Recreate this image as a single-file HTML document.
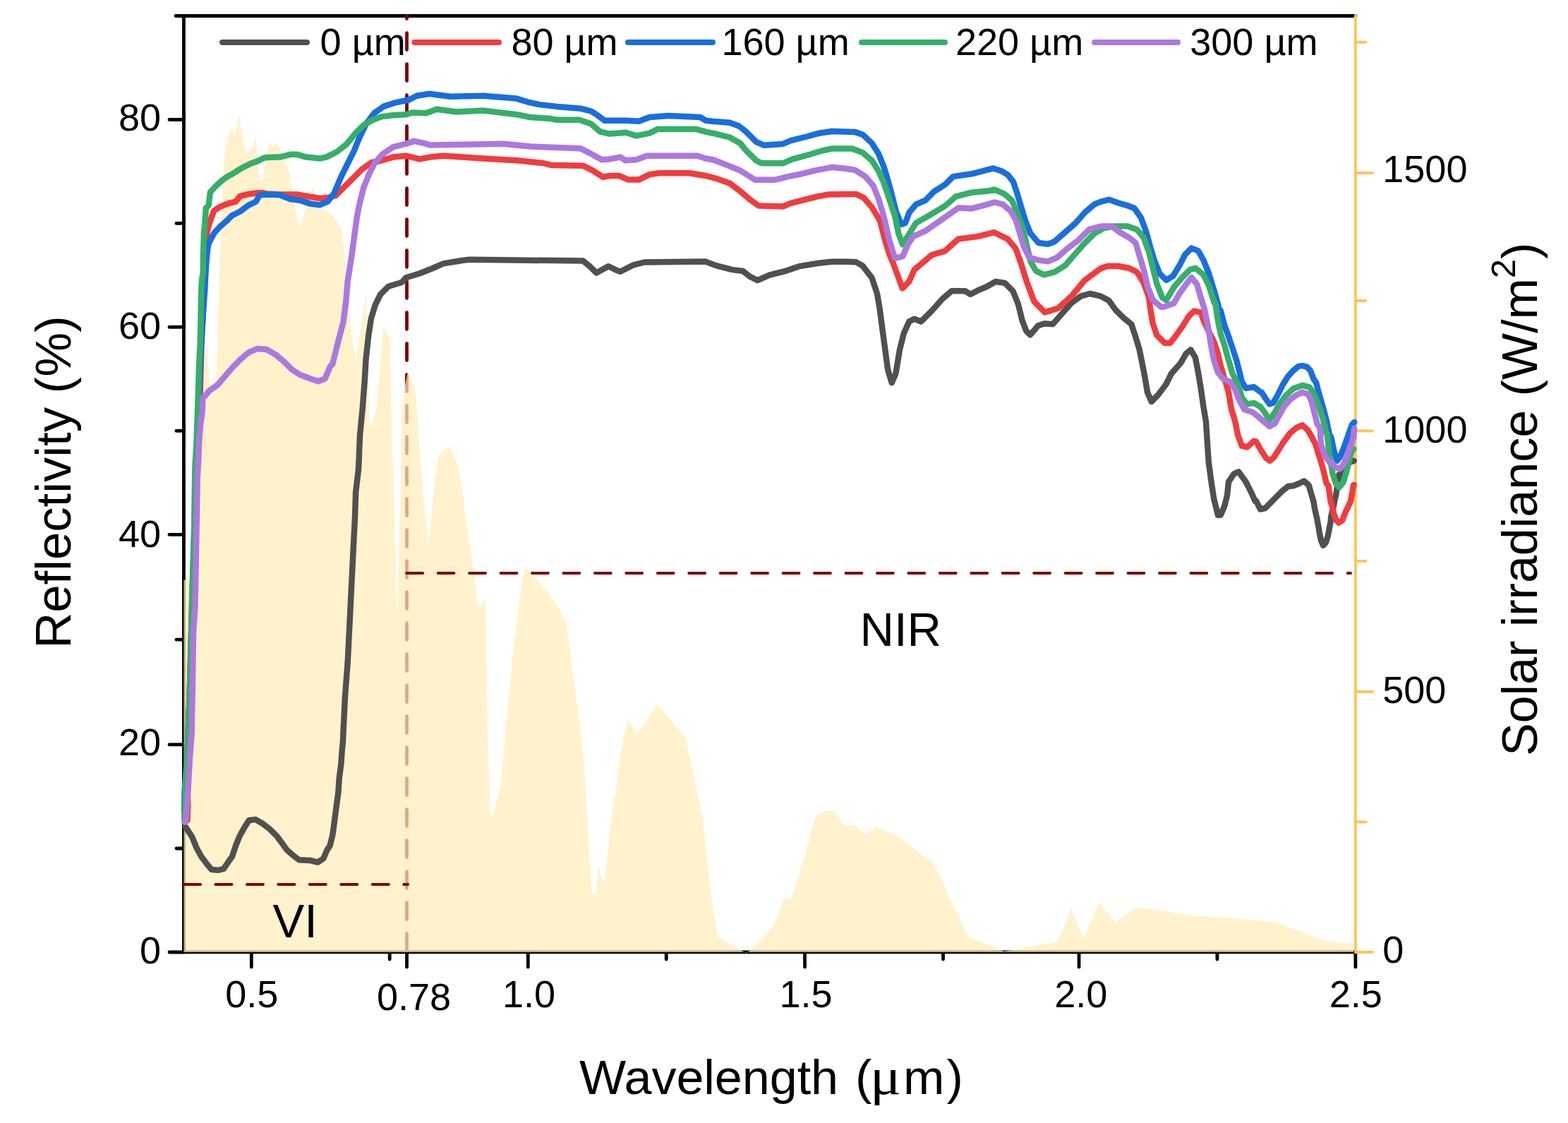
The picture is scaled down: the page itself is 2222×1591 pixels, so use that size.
<!DOCTYPE html><html><head><meta charset="utf-8"><style>html,body{margin:0;padding:0;background:#fff;}svg{display:block;}text{font-family:"Liberation Sans",Arial,sans-serif;fill:#000;}</style></head><body>
<svg xmlns="http://www.w3.org/2000/svg" width="2222" height="1591" viewBox="0 0 2222 1591">
<rect width="2222" height="1591" fill="#fff"/>
<g stroke="#000" stroke-width="4.8" stroke-linecap="round" fill="none">
<line x1="260.45" y1="22.5" x2="260.45" y2="1348.9"/>
<line x1="260.45" y1="1348.9" x2="1920.9" y2="1348.9"/>
<line x1="249" y1="22.5" x2="1920.9" y2="22.5"/>
<line x1="240" y1="1349" x2="260.45" y2="1349"/>
<line x1="240" y1="1054.9" x2="260.45" y2="1054.9"/>
<line x1="240" y1="757.4" x2="260.45" y2="757.4"/>
<line x1="240" y1="463.4" x2="260.45" y2="463.4"/>
<line x1="240" y1="169.5" x2="260.45" y2="169.5"/>
<line x1="250" y1="1202.0" x2="260.45" y2="1202.0"/>
<line x1="250" y1="906.2" x2="260.45" y2="906.2"/>
<line x1="250" y1="610.4" x2="260.45" y2="610.4"/>
<line x1="250" y1="316.4" x2="260.45" y2="316.4"/>
<line x1="356.3" y1="1348.9" x2="356.3" y2="1370"/>
<line x1="576.5" y1="1348.9" x2="576.5" y2="1370"/>
<line x1="748.25" y1="1348.9" x2="748.25" y2="1370"/>
<line x1="1140.5" y1="1348.9" x2="1140.5" y2="1370"/>
<line x1="1529.0" y1="1348.9" x2="1529.0" y2="1370"/>
<line x1="1920.9" y1="1348.9" x2="1920.9" y2="1370"/>
<line x1="552.2" y1="1348.9" x2="552.2" y2="1359"/>
<line x1="944.2" y1="1348.9" x2="944.2" y2="1359"/>
<line x1="1336.5" y1="1348.9" x2="1336.5" y2="1359"/>
<line x1="1724.9" y1="1348.9" x2="1724.9" y2="1359"/>
</g>
<g stroke="#FFC45C" stroke-width="4" stroke-linecap="round" fill="none">
<line x1="1920.9" y1="20.5" x2="1920.9" y2="1349.9" stroke-linecap="butt"/>
<line x1="1920.9" y1="1349" x2="1945" y2="1349"/>
<line x1="1920.9" y1="980.0" x2="1945" y2="980.0"/>
<line x1="1920.9" y1="610.5" x2="1945" y2="610.5"/>
<line x1="1920.9" y1="245.0" x2="1945" y2="245.0"/>
<line x1="1920.9" y1="1164.5" x2="1935.5" y2="1164.5"/>
<line x1="1920.9" y1="795.0" x2="1935.5" y2="795.0"/>
<line x1="1920.9" y1="426.0" x2="1935.5" y2="426.0"/>
<line x1="1920.9" y1="59.8" x2="1935.5" y2="59.8"/>
</g>
<line x1="576.5" y1="1346.6" x2="576.5" y2="22.5" stroke="#7F0000" stroke-width="4.8" stroke-dasharray="24 20" stroke-linecap="round"/>
<path d="M260.4,1348.9 L260.4,822.0 L274.0,819.0 L280.0,700.0 L286.0,560.0 L289.0,520.0 L292.7,485.6 L296.0,530.0 L298.4,556.0 L303.0,545.0 L306.3,539.4 L310.6,400.0 L313.5,307.4 L316.1,267.9 L317.2,228.3 L318.4,219.8 L319.5,211.3 L321.7,200.0 L326.7,179.0 L332.0,192.0 L339.3,164.0 L344.9,200.0 L346.6,211.3 L348.3,215.8 L351.2,215.8 L359.1,208.5 L362.5,192.4 L364.7,222.6 L366.4,236.8 L368.1,255.4 L372.7,256.6 L373.8,245.3 L381.4,200.0 L387.0,209.0 L393.6,202.8 L409.6,243.3 L417.0,290.0 L424.7,322.5 L443.6,264.0 L453.0,294.0 L470.0,303.7 L485.0,326.0 L494.0,424.5 L497.7,466.0 L504.3,515.0 L510.9,466.0 L519.4,414.1 L520.3,456.6 L522.2,532.0 L523.2,588.6 L525.1,604.6 L533.5,579.2 L537.3,532.0 L541.1,484.9 L543.9,464.1 L552.4,479.2 L554.3,569.7 L556.2,635.7 L558.1,700.0 L562.5,873.0 L567.5,700.0 L569.4,588.6 L573.2,550.9 L577.9,526.4 L588.2,550.9 L590.1,569.7 L593.9,626.3 L599.6,700.0 L607.2,770.6 L614.6,700.0 L616.5,673.5 L623.1,643.3 L637.3,632.0 L648.6,660.3 L650.5,667.8 L656.1,700.0 L659.6,732.0 L665.3,769.7 L670.9,807.4 L676.6,856.5 L680.3,858.4 L687.9,848.9 L688.3,860.0 L689.2,935.4 L691.1,1048.6 L693.9,1124.0 L694.9,1156.6 L696.8,1159.4 L700.5,1147.1 L709.0,1114.6 L714.7,1058.0 L720.3,992.0 L726.0,935.4 L731.7,888.3 L736.9,845.2 L743.5,803.7 L759.6,820.6 L778.4,841.4 L790.1,860.0 L801.4,878.9 L807.1,916.6 L814.6,973.2 L822.2,1029.7 L827.8,1086.3 L831.6,1142.9 L836.3,1232.0 L839.2,1267.8 L843.9,1266.0 L848.6,1226.4 L854.2,1250.9 L858.0,1241.4 L863.7,1184.9 L869.3,1128.3 L871.2,1133.5 L876.9,1086.3 L882.5,1048.6 L890.1,1018.4 L903.3,1039.2 L916.5,1020.3 L930.6,998.6 L948.5,1018.4 L971.2,1044.8 L980.6,1086.3 L990.0,1133.5 L995.7,1156.6 L999.5,1194.3 L1005.1,1250.9 L1010.8,1288.6 L1017.4,1326.3 L1040.0,1341.4 L1057.0,1349.9 L1062.6,1347.1 L1087.1,1322.5 L1097.5,1309.3 L1110.7,1272.6 L1122.0,1272.6 L1138.1,1220.7 L1156.0,1155.6 L1170.1,1149.0 L1183.3,1149.0 L1196.5,1169.8 L1211.6,1169.8 L1226.7,1183.0 L1240.8,1170.7 L1275.7,1186.8 L1323.8,1224.5 L1371.9,1327.3 L1422.8,1348.0 L1440.0,1345.2 L1443.0,1344.1 L1499.2,1333.8 L1518.7,1286.7 L1534.8,1330.3 L1557.7,1278.7 L1580.7,1306.2 L1610.5,1285.6 L1642.6,1289.0 L1688.5,1297.0 L1741.3,1300.5 L1805.6,1306.2 L1881.3,1333.8 L1918.0,1337.2 L1918.0,1337.2 L1918.0,1348.9 Z" fill="#FFEDB8" fill-opacity="0.72" stroke="none"/>
<line x1="261" y1="1253" x2="578" y2="1253" stroke="#7F0000" stroke-width="4" stroke-dasharray="23 21.45" stroke-linecap="round"/>
<line x1="576.2" y1="812" x2="1914" y2="812" stroke="#7F0000" stroke-width="4" stroke-dasharray="22.8 21.65" stroke-linecap="round"/>
<g fill="none" stroke-width="8.5" stroke-linejoin="round" stroke-linecap="round">
<path d="M262.9,1171.4 L268.2,1179.7 L272.2,1185.6 L278.8,1201.8 L285.4,1213.7 L293.3,1224.2 L299.9,1232.1 L309.1,1232.8 L317.0,1230.8 L325.0,1218.9 L328.9,1213.7 L334.2,1197.8 L339.5,1184.6 L346.1,1172.8 L352.7,1162.2 L361.9,1160.9 L371.2,1166.2 L381.7,1174.1 L392.3,1184.6 L400.2,1195.2 L406.8,1204.4 L416.0,1212.4 L424.0,1218.3 L439.8,1219.0 L450.3,1221.6 L458.3,1216.3 L463.5,1204.1 L467.5,1198.2 L471.5,1182.0 L474.1,1162.2 L476.7,1142.4 L479.4,1122.6 L480.7,1102.8 L483.3,1083.0 L484.7,1063.2 L486.0,1050.0 L486.5,1037.1 L489.0,986.8 L492.8,936.6 L495.3,886.3 L497.8,836.0 L500.3,785.7 L502.9,735.4 L504.1,697.7 L508.1,664.0 L510.0,616.8 L513.7,579.1 L516.6,541.4 L518.5,509.4 L522.2,475.4 L526.0,450.9 L531.7,432.1 L539.2,417.0 L550.5,405.7 L569.4,400.0 L575.6,393.2 L594.4,387.5 L613.3,380.0 L628.3,373.4 L656.6,368.7 L666.0,367.8 L747.1,368.7 L826.3,369.6 L835.7,377.2 L845.1,386.6 L862.1,377.2 L873.4,382.8 L879.1,384.7 L897.9,375.3 L913.0,371.5 L999.9,370.6 L1015.1,376.4 L1037.7,382.1 L1052.8,384.0 L1062.2,391.5 L1073.5,397.2 L1090.5,389.6 L1113.1,384.0 L1132.0,377.4 L1160.3,372.7 L1179.1,370.8 L1200.0,370.7 L1211.3,371.3 L1212.8,371.1 L1222.2,376.4 L1235.4,393.3 L1243.0,416.0 L1246.8,438.6 L1250.5,466.9 L1254.3,495.2 L1258.1,523.5 L1263.7,542.3 L1269.4,529.1 L1275.0,495.2 L1280.7,472.5 L1288.2,455.6 L1295.8,451.8 L1305.2,455.6 L1320.3,440.5 L1335.4,423.5 L1348.6,412.2 L1367.4,412.2 L1375.0,416.9 L1386.3,411.2 L1397.6,406.5 L1410.8,399.0 L1424.0,400.9 L1435.3,412.2 L1442.9,431.0 L1448.5,453.7 L1454.2,468.8 L1459.9,474.4 L1471.2,461.2 L1480.6,458.4 L1491.9,459.3 L1505.1,444.2 L1518.3,429.2 L1531.5,419.7 L1544.7,416.0 L1560.0,419.7 L1571.3,425.7 L1580.7,438.9 L1592.1,450.2 L1603.4,459.6 L1609.0,476.6 L1614.7,495.4 L1618.5,514.3 L1622.2,533.1 L1626.0,555.8 L1631.7,569.0 L1641.1,559.5 L1652.4,544.5 L1659.9,529.4 L1673.1,514.3 L1680.7,501.1 L1687.3,495.4 L1693.9,506.7 L1697.6,525.6 L1701.4,548.2 L1705.2,574.9 L1705.2,574.9 L1709.0,597.7 L1710.8,626.0 L1712.7,654.3 L1716.5,682.6 L1720.3,707.1 L1725.9,729.7 L1729.7,729.7 L1735.4,716.5 L1739.1,701.4 L1741.0,682.6 L1748.6,671.3 L1755.2,668.4 L1765.5,682.6 L1773.1,697.6 L1778.7,709.9 L1780.0,709.6 L1786.0,721.5 L1792.8,720.0 L1801.1,711.7 L1810.2,702.6 L1817.7,695.1 L1825.3,689.1 L1832.8,688.3 L1840.3,685.3 L1847.9,681.5 L1854.7,687.5 L1859.2,703.2 L1861.5,710.8 L1863.0,720.2 L1866.0,733.5 L1868.2,744.7 L1869.8,754.8 L1872.0,765.7 L1875.0,772.7 L1878.8,768.7 L1881.8,759.2 L1883.3,751.1 L1885.6,739.2 L1886.3,731.6 L1890.1,715.7 L1891.6,707.5 L1893.1,702.1 L1897.5,672.5 L1899.2,672.3 L1905.2,660.3 L1912.7,655.1 L1918.8,652.8" stroke="#505050"/>
<path d="M262.0,1162.8 L263.5,1163.3 L265.5,1162.6 L266.3,1140.0 L265.5,1110.0 L266.3,1050.0 L268.0,1000.0 L269.5,950.0 L271.0,900.0 L272.5,850.0 L274.2,800.0 L276.0,750.0 L277.5,700.0 L280.0,650.0 L282.0,600.0 L283.8,550.0 L285.5,490.0 L288.5,427.0 L291.0,380.0 L293.5,329.7 L294.0,326.6 L296.9,315.7 L298.6,311.2 L303.1,298.7 L311.6,293.0 L322.9,288.5 L334.2,285.7 L339.9,278.1 L351.2,275.2 L362.5,273.5 L371.0,273.0 L377.6,274.4 L396.4,275.4 L420.9,275.4 L436.0,278.2 L453.0,281.0 L464.3,280.1 L475.6,277.2 L488.8,264.0 L500.1,252.7 L513.3,239.5 L526.5,230.1 L537.8,228.2 L556.7,222.6 L575.6,220.7 L594.4,225.4 L609.4,222.6 L628.3,220.7 L684.9,224.5 L732.0,227.3 L769.7,231.0 L781.0,233.9 L826.3,234.8 L839.5,241.4 L854.6,250.8 L864.0,249.0 L877.2,249.0 L890.4,254.6 L905.5,254.6 L920.6,247.1 L933.8,245.2 L977.1,245.2 L999.9,249.0 L1015.1,252.9 L1033.9,259.5 L1049.0,270.8 L1062.2,282.2 L1075.4,291.6 L1109.4,292.5 L1120.7,287.8 L1139.5,283.1 L1158.4,278.4 L1173.5,275.6 L1211.2,275.1 L1212.8,274.9 L1224.1,280.2 L1235.4,293.4 L1246.8,312.2 L1254.3,340.5 L1260.0,359.4 L1265.6,372.6 L1273.2,393.3 L1278.8,408.4 L1288.2,399.0 L1295.8,382.0 L1307.1,372.6 L1320.3,361.3 L1339.2,355.6 L1358.0,338.6 L1386.3,334.9 L1408.9,329.2 L1427.8,338.6 L1439.1,351.8 L1446.7,372.6 L1454.2,397.1 L1465.5,427.3 L1480.6,442.4 L1499.5,436.7 L1518.3,419.7 L1537.2,397.1 L1560.0,380.1 L1569.7,377.0 L1584.8,377.0 L1599.9,379.9 L1611.2,385.5 L1620.6,400.6 L1628.2,421.4 L1629.8,435.1 L1633.5,457.7 L1639.2,474.7 L1650.5,486.0 L1658.1,486.0 L1665.6,476.6 L1675.0,463.4 L1684.5,448.3 L1692.0,440.7 L1701.4,442.6 L1707.1,457.7 L1714.6,472.8 L1720.3,484.1 L1725.9,501.1 L1729.7,518.1 L1735.4,536.9 L1741.0,555.8 L1744.8,578.9 L1750.4,597.7 L1754.2,616.6 L1759.9,631.7 L1767.4,633.5 L1776.8,624.8 L1780.0,625.7 L1786.0,636.2 L1793.6,648.3 L1799.6,652.8 L1804.9,648.3 L1811.7,637.7 L1819.2,625.6 L1828.3,613.6 L1837.3,606.0 L1845.6,602.3 L1853.2,609.1 L1859.2,619.6 L1864.5,630.2 L1868.2,642.2 L1872.0,654.3 L1875.8,667.9 L1879.6,684.7 L1882.6,688.0 L1885.6,710.7 L1887.9,717.7 L1890.1,727.6 L1893.1,736.0 L1896.9,740.6 L1902.2,737.3 L1906.7,725.4 L1910.5,717.6 L1914.3,709.5 L1918.0,687.4 L1918.8,686.9" stroke="#EF3D3F"/>
<path d="M261.0,1150.0 L261.5,1120.0 L263.0,1105.0 L264.2,1085.0 L266.3,1050.0 L268.2,1000.0 L269.8,950.0 L271.0,900.0 L272.3,850.0 L274.0,800.0 L275.8,745.0 L276.5,700.0 L277.5,660.0 L279.5,630.0 L281.0,590.0 L282.0,560.0 L283.5,525.0 L285.0,490.0 L287.5,450.0 L289.9,414.6 L290.1,414.4 L291.2,390.2 L292.7,367.7 L293.1,363.2 L294.0,354.2 L295.2,346.5 L298.6,339.1 L304.2,329.2 L311.6,321.3 L320.1,313.9 L328.5,305.5 L339.9,299.8 L351.2,291.3 L362.5,285.7 L368.1,276.4 L375.0,275.8 L383.2,275.4 L396.4,276.3 L411.5,282.0 L424.7,283.8 L439.8,288.6 L453.0,290.4 L464.3,285.7 L473.7,273.5 L483.2,250.8 L492.6,232.0 L502.0,213.1 L509.6,194.3 L519.0,175.4 L530.3,160.3 L543.5,150.9 L560.5,145.3 L579.3,141.5 L590.6,135.8 L607.6,133.0 L609.4,133.0 L637.7,136.8 L684.9,135.8 L732.0,139.6 L747.1,144.3 L764.0,148.1 L788.6,150.9 L822.5,153.7 L837.6,157.5 L845.1,162.2 L856.4,170.7 L886.6,170.7 L905.5,171.7 L920.6,166.0 L947.0,164.1 L992.2,166.0 L999.9,170.7 L1011.3,171.9 L1033.9,173.7 L1047.1,178.5 L1056.6,186.0 L1071.7,201.1 L1083.0,205.8 L1109.4,203.9 L1120.7,199.2 L1143.3,193.5 L1160.3,188.8 L1179.1,186.0 L1211.2,186.9 L1222.5,190.7 L1235.7,203.0 L1245.1,218.1 L1252.7,236.9 L1258.3,255.8 L1264.0,276.5 L1269.6,299.1 L1277.2,318.0 L1282.8,316.1 L1288.5,301.0 L1297.9,289.7 L1311.1,284.0 L1324.3,270.8 L1339.4,261.4 L1350.7,250.1 L1377.1,246.3 L1400.0,240.3 L1407.5,238.5 L1418.9,242.2 L1428.3,247.9 L1435.8,257.3 L1441.5,274.3 L1447.1,293.1 L1452.8,312.0 L1460.3,330.8 L1471.7,344.0 L1484.9,345.9 L1494.3,342.2 L1509.4,329.0 L1524.5,315.8 L1537.6,300.7 L1550.8,289.4 L1560.3,285.6 L1571.6,282.8 L1584.8,287.5 L1598.0,291.3 L1607.4,295.0 L1616.8,308.2 L1624.4,329.0 L1630.0,349.7 L1635.7,368.6 L1643.2,387.4 L1652.7,396.8 L1662.1,391.2 L1671.5,376.1 L1679.1,361.0 L1688.5,351.6 L1697.9,355.4 L1705.5,368.6 L1713.0,387.4 L1720.6,411.9 L1728.1,439.1 L1729.7,440.0 L1735.4,461.5 L1741.0,476.6 L1746.7,493.5 L1752.3,510.5 L1756.1,525.6 L1759.9,540.7 L1765.5,550.1 L1776.8,548.2 L1786.3,555.5 L1787.5,555.4 L1793.6,564.9 L1798.9,572.4 L1804.1,570.9 L1810.2,560.3 L1817.7,545.3 L1825.3,533.2 L1832.8,524.9 L1840.3,518.9 L1845.6,518.1 L1851.7,519.6 L1856.9,524.9 L1861.5,537.0 L1865.2,542.2 L1869.0,557.3 L1872.8,570.1 L1876.5,583.0 L1880.3,598.1 L1884.1,616.8 L1886.3,619.0 L1890.1,637.7 L1894.6,652.8 L1899.2,646.8 L1904.5,633.9 L1909.7,618.9 L1915.8,601.8 L1919.2,598.1" stroke="#1A6EDC"/>
<path d="M261.2,1160.0 L262.0,1125.0 L263.0,1110.0 L264.5,1085.0 L266.5,1050.0 L268.3,1000.0 L269.8,950.0 L271.0,900.0 L272.1,850.0 L273.5,800.0 L275.2,745.0 L275.8,700.0 L276.5,660.0 L278.3,630.0 L279.8,590.0 L280.8,560.0 L282.0,520.0 L283.5,490.0 L284.4,460.0 L284.9,420.0 L285.9,398.0 L287.8,386.0 L288.0,360.0 L289.0,330.0 L290.6,314.0 L291.8,294.8 L295.7,290.7 L298.0,272.1 L302.0,267.9 L305.9,263.7 L311.6,258.3 L317.2,253.7 L322.9,249.8 L331.4,245.3 L339.9,239.6 L348.3,235.1 L356.8,231.1 L365.3,228.3 L373.8,223.8 L377.6,223.0 L396.4,222.6 L411.5,218.8 L420.9,218.8 L434.1,222.6 L453.0,224.5 L462.4,222.6 L477.5,215.0 L490.7,204.7 L503.9,188.6 L515.2,177.3 L528.4,169.8 L541.6,165.1 L556.7,163.2 L575.6,162.2 L585.0,159.4 L603.8,160.3 L618.9,154.7 L647.1,158.5 L684.9,156.6 L732.0,162.2 L750.8,166.0 L779.1,167.9 L788.6,169.8 L820.6,169.8 L837.6,175.4 L850.8,186.7 L864.0,189.6 L886.6,187.7 L901.7,192.4 L920.6,188.6 L931.9,183.0 L986.5,183.0 L999.9,186.7 L1015.1,189.8 L1033.9,194.5 L1049.0,203.0 L1056.6,212.4 L1071.7,227.5 L1079.2,231.3 L1109.4,231.3 L1122.6,225.6 L1147.1,219.0 L1165.9,213.3 L1179.1,210.5 L1207.4,210.5 L1222.5,216.2 L1235.7,227.5 L1245.1,242.6 L1252.7,259.5 L1260.2,282.2 L1267.8,304.8 L1273.4,331.2 L1279.1,346.3 L1288.5,331.2 L1297.9,316.1 L1320.6,302.9 L1339.4,291.6 L1354.5,278.4 L1377.1,272.7 L1400.0,270.5 L1409.4,268.6 L1422.6,274.3 L1433.9,283.7 L1441.5,300.7 L1449.0,321.4 L1454.7,345.9 L1460.3,370.4 L1467.9,383.6 L1479.2,389.3 L1494.3,385.5 L1509.4,376.1 L1522.6,361.0 L1535.8,345.9 L1550.8,330.8 L1564.0,323.3 L1579.1,320.5 L1598.0,320.5 L1611.2,325.2 L1620.6,336.5 L1628.2,357.2 L1633.8,379.9 L1639.5,402.5 L1647.0,421.4 L1652.7,425.1 L1664.0,406.3 L1675.3,393.1 L1686.6,381.8 L1694.2,379.9 L1705.5,389.3 L1713.0,404.4 L1720.6,428.5 L1722.2,429.8 L1725.9,453.9 L1729.7,472.8 L1735.4,489.8 L1741.0,510.5 L1746.7,529.4 L1754.2,544.5 L1759.9,563.3 L1767.4,572.7 L1776.8,570.8 L1786.3,576.5 L1791.3,583.0 L1798.9,595.0 L1806.4,584.5 L1813.9,571.7 L1822.2,560.3 L1832.8,550.5 L1845.6,546.0 L1855.4,548.3 L1861.5,556.6 L1866.0,567.9 L1870.5,579.9 L1875.0,594.3 L1879.6,614.1 L1880.6,615.1 L1884.1,645.3 L1888.6,671.7 L1893.1,685.2 L1897.7,690.5 L1903.7,683.0 L1908.2,667.9 L1912.7,649.0 L1916.5,636.0 L1918.3,636.3" stroke="#37AE6A"/>
<path d="M261.3,1164.8 L263.4,1163.2 L265.5,1134.0 L267.0,1110.0 L268.3,1086.0 L270.0,1060.0 L271.7,1039.0 L272.9,967.0 L274.1,895.0 L276.3,862.0 L277.7,800.0 L278.3,760.0 L279.1,720.0 L279.6,680.0 L281.0,655.0 L282.2,625.0 L284.3,600.0 L286.5,585.0 L287.5,563.4 L290.0,561.6 L296.5,553.5 L307.8,545.9 L319.1,532.7 L330.4,519.5 L341.7,508.2 L353.1,498.8 L364.4,494.1 L377.6,495.0 L390.8,502.6 L402.1,512.0 L413.4,523.3 L424.7,530.8 L439.8,536.5 L451.1,540.3 L460.5,536.5 L468.1,518.8 L471.3,515.7 L478.9,484.9 L486.4,456.6 L490.2,428.3 L492.6,398.9 L498.2,364.0 L502.0,335.7 L505.8,307.4 L509.6,288.6 L515.2,265.9 L522.8,247.1 L530.3,232.0 L541.6,218.8 L556.7,208.4 L575.6,203.7 L586.9,199.9 L603.8,203.7 L609.4,205.6 L656.6,204.7 L713.1,203.7 L750.8,207.5 L822.5,210.3 L835.7,216.9 L852.7,226.3 L864.0,225.4 L879.1,222.6 L886.6,227.3 L901.7,226.3 L916.8,220.7 L988.4,220.7 L999.9,224.5 L1011.3,226.5 L1028.3,233.1 L1047.1,240.7 L1056.6,246.3 L1069.8,254.8 L1098.1,254.8 L1116.9,250.1 L1135.8,246.3 L1154.6,241.6 L1179.1,236.9 L1198.0,238.8 L1211.2,240.7 L1226.3,250.1 L1237.6,263.3 L1245.1,282.2 L1250.8,301.0 L1256.4,323.6 L1260.2,340.6 L1267.8,364.7 L1269.8,365.5 L1279.2,363.2 L1286.6,346.3 L1294.2,335.0 L1311.1,327.4 L1330.0,314.2 L1348.8,301.0 L1358.3,294.4 L1377.1,295.4 L1400.0,289.4 L1409.4,286.5 L1420.7,289.4 L1432.1,298.8 L1439.6,312.0 L1445.3,330.8 L1450.9,349.7 L1458.5,364.8 L1471.7,368.6 L1484.9,370.4 L1498.1,364.8 L1513.1,351.6 L1528.2,340.3 L1543.3,325.2 L1560.3,320.5 L1575.4,320.5 L1586.7,329.0 L1599.9,336.5 L1609.3,344.0 L1615.0,362.9 L1620.6,381.8 L1626.3,406.3 L1633.8,425.1 L1645.1,434.7 L1648.6,434.9 L1663.7,429.4 L1671.5,415.7 L1681.0,402.5 L1688.5,393.1 L1696.0,402.5 L1701.7,421.4 L1707.1,438.9 L1712.7,467.1 L1716.5,491.7 L1720.3,510.5 L1725.9,527.5 L1733.5,536.9 L1742.9,540.7 L1750.4,552.0 L1756.1,567.1 L1763.6,580.3 L1775.0,584.0 L1782.5,589.7 L1787.5,594.3 L1798.9,604.1 L1806.4,600.3 L1812.4,589.0 L1820.0,575.4 L1829.0,565.6 L1837.3,559.6 L1845.6,555.8 L1853.9,558.8 L1858.4,567.9 L1862.2,583.0 L1866.7,601.1 L1870.5,606.3 L1872.0,630.2 L1878.1,646.8 L1885.6,656.6 L1893.1,662.6 L1899.2,664.1 L1904.5,656.6 L1909.7,643.7 L1914.3,631.7 L1918.0,618.9 L1919.2,606.7" stroke="#AC78DD"/>
</g>
<line x1="315" y1="60" x2="435" y2="60" stroke="#505050" stroke-width="8" stroke-linecap="round"/>
<text x="453.6" y="78.3" font-size="54">0 µm</text>
<line x1="587.5" y1="60" x2="707" y2="60" stroke="#EF3D3F" stroke-width="8" stroke-linecap="round"/>
<text x="724.4" y="78.3" font-size="54">80 µm</text>
<line x1="890" y1="60" x2="1010" y2="60" stroke="#1A6EDC" stroke-width="8" stroke-linecap="round"/>
<text x="1022.5" y="78.3" font-size="54">160 µm</text>
<line x1="1221" y1="60" x2="1339" y2="60" stroke="#37AE6A" stroke-width="8" stroke-linecap="round"/>
<text x="1354" y="78.3" font-size="54">220 µm</text>
<line x1="1551" y1="60" x2="1669" y2="60" stroke="#AC78DD" stroke-width="8" stroke-linecap="round"/>
<text x="1686.3" y="78.3" font-size="54">300 µm</text>
<text x="228" y="1364.9" font-size="54" text-anchor="end">0</text>
<text x="228" y="1070.0" font-size="54" text-anchor="end">20</text>
<text x="228" y="775.1" font-size="54" text-anchor="end">40</text>
<text x="228" y="480.3" font-size="54" text-anchor="end">60</text>
<text x="228" y="185.4" font-size="54" text-anchor="end">80</text>
<text x="1959.3" y="1364.2" font-size="54">0</text>
<text x="1959.3" y="995.6" font-size="54">500</text>
<text x="1959.3" y="627.0" font-size="54">1000</text>
<text x="1959.3" y="258.4" font-size="54">1500</text>
<text x="356.8" y="1426.7" font-size="54" text-anchor="middle">0.5</text>
<text x="749.6" y="1426.7" font-size="54" text-anchor="middle">1.0</text>
<text x="1142" y="1426.7" font-size="54" text-anchor="middle">1.5</text>
<text x="1531.7" y="1426.7" font-size="54" text-anchor="middle">2.0</text>
<text x="1921.3" y="1426.7" font-size="54" text-anchor="middle">2.5</text>
<text x="586.6" y="1430.7" font-size="54" text-anchor="middle">0.78</text>
<text x="1218.6" y="914.7" font-size="67">NIR</text>
<text x="386.5" y="1328.2" font-size="67">VI</text>
<text transform="translate(100.3,683.1) rotate(-90)" font-size="70.7" text-anchor="middle">Reflectivity (%)</text>
<g transform="translate(0,1549.9) scale(1,0.975)">
<text x="821" y="0" font-size="70">Wavelength</text>
<text x="1212" y="0" font-size="70">(</text>
<g transform="translate(1233,0) scale(1.08,1)"><text x="0" y="0" font-size="76" style="font-family:'Liberation Serif',serif">μ</text></g>
<text x="1280" y="0" font-size="70">m</text>
<text x="1341.5" y="0" font-size="70">)</text>
</g>
<text transform="translate(2178,707.4) rotate(-90)" font-size="70" text-anchor="middle">Solar irradiance (W/m<tspan font-size="49" dy="-31">2</tspan><tspan dy="31">)</tspan></text>
</svg></body></html>
